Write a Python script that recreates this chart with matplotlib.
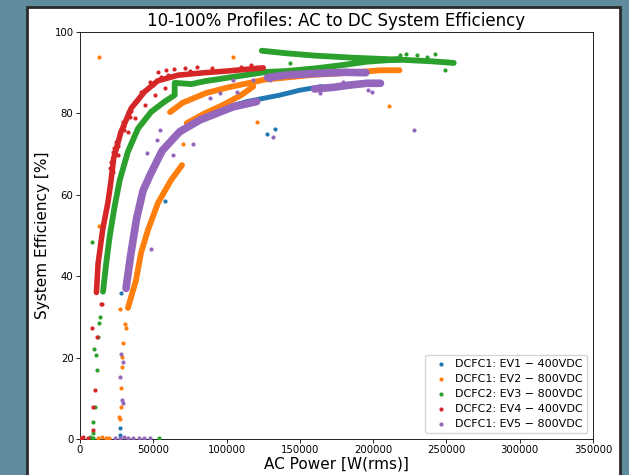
import numpy as np
import matplotlib
matplotlib.use("Agg")
import matplotlib.pyplot as plt
from matplotlib.patches import Rectangle

nan = np.nan

# legend labels, same order as the colours below
labels = ["DCFC1: EV1 \u2212 400VDC", "DCFC1: EV2 \u2212 800VDC", "DCFC2: EV3 \u2212 800VDC",
          "DCFC2: EV4 \u2212 400VDC", "DCFC1: EV5 \u2212 800VDC"]
colors = ["tab:blue", "tab:orange", "tab:green", "tab:red", "tab:purple"]

# --- EV1 (blue): dense band (nan = break) + stray points
ev1_band_x = [78000, 97700, 113700, 136400, 150000, 165000]
ev1_band_y = [78.5, 81.2, 82.9, 84.5, 85.7, 86.6]
ev1_dot_x = [27300, 27300, 27700, 58000, 127300, 133000]
ev1_dot_y = [1.0, 2.8, 35.9, 58.5, 74.9, 76.1]

# --- EV2 (orange)
ev2_band_x = [32700, 38200, 41600, 46400, 53200, 62100, 69600, nan,
              61400, 70000, 86000, 100000, 126000, 160000, 185000, 205000, 218000, nan,
              72800, 85000, 97700, 110000, 118200]
ev2_band_y = [32.2, 39, 45.7, 51.4, 58, 63.6, 67.3, nan,
              80.3, 82.6, 85, 86.3, 88.3, 89.5, 90, 90.6, 90.6, nan,
              77.6, 80, 82.1, 84.5, 86.6]
ev2_dot_x = [13000, 13200, 27300, 30700, 31200, 29300, 28500, 28500, 27700, 27700, 26600,
             27100, 20000, 17500, 12500, 15000, 104400, 120500, 211000, 70500]
ev2_dot_y = [93.9, 52.3, 32, 28.3, 27.3, 23.6, 20.2, 17.7, 12.5, 7.9, 5.4,
             4.8, 0.3, 0.3, 0.3, 0.5, 93.9, 78, 81.8, 72.6]

# --- EV3 (green)
ev3_band_x = [15700, 17900, 20200, 23600, 27100, 32700, 39600, 48600, 57800, 64600,
              64600, 75900, 85000, 105000, 127300, 141000, 161400, 179600, 195600, 218300, nan,
              124000, 140000, 160000, 185000, 218000, 240000, 255000]
ev3_band_y = [36.2, 43.2, 49.7, 57.1, 63.6, 70.6, 76.3, 80.4, 82.9, 84.5,
              87.5, 87.2, 87.9, 89, 90.2, 90.4, 91.1, 91.9, 92.7, 93.3, nan,
              95.4, 94.8, 94.2, 93.7, 93.2, 92.8, 92.4]
ev3_dot_x = [218000, 222400, 229900, 236700, 242100, 249000, 143200, 8200, 13600, 13200,
             12500, 9500, 10900, 11400, 10200, 8700, 8900, 54000, 9000, 7000]
ev3_dot_y = [94.3, 94.6, 94.4, 93.9, 94.6, 90.7, 92.3, 48.3, 30, 28.5,
             25, 22, 20.6, 17, 7.9, 4.2, 1.4, 0.2, 0.3, 0.4]

# --- EV4 (red)
ev4_band_x = [11200, 12300, 15500, 19000, 21000, 23000, 28000, 35000, 44000, 53000,
              67000, 85000, 100000, 125000]
ev4_band_y = [36, 43, 51.5, 58, 63, 69, 75.5, 81.3, 85.3, 88,
              89.4, 90, 90.4, 91.2]
ev4_dot_x = [21400, 22500, 24800, 27000, 29300, 32700, 37300, 41800, 47500, 53200,
             58900, 71400, 32700, 37300, 44100, 51000, 57800, 25900, 22500, 14100,
             8000, 11400, 10200, 9100, 8700, 700, 5700, 14800, 2000,
             26000, 30000, 34000, 39000, 46000, 50000, 60000, 75000, 90000, 110000,
             20500, 23500, 26800, 29800, 34500, 40500, 55000, 64000, 80000, 117000]
ev4_dot_y = [68.1, 70.6, 73, 75.5, 78, 80.4, 82.9, 85.3, 87.8, 90.2,
             90.7, 91.1, 75.5, 78.8, 82.1, 84.5, 86.2, 69.8, 65.7, 33.2,
             27.3, 25.1, 12, 7.9, 2.2, 0.2, 0.2, 33.2, 0.5,
             72, 76, 79, 83, 86, 87, 89.5, 90.5, 91.2, 91.5,
             66.5, 71.5, 74, 77, 80.5, 84, 89, 90.8, 91.5, 92]

# --- EV5 (purple)
ev5_band_x = [31400, 34500, 38500, 43000, 48000, 56000, 68000, 81900, 104400, 120500, nan,
              160000, 172600, 185000, 195600, 205000, nan,
              128000, 140000, 160000, 180000, 195000]
ev5_band_y = [37, 45, 54, 61, 65, 70.8, 75.5, 78.4, 81.6, 82.9, nan,
              86.0, 86.4, 87, 87.4, 87.4, nan,
              88.8, 89.4, 89.8, 90.1, 90.0]
ev5_dot_x = [131900, 227800, 179600, 163700, 196700, 199000, 88700, 95500, 106900, 118200,
             129600, 104600, 54600, 52300, 77300, 63600, 45500, 48200, 27300, 28400,
             29500, 24000, 27000, 30000, 33000, 36000, 40000, 44000, 48000, 28000, 29000]
ev5_dot_y = [74.3, 75.9, 87.8, 84.9, 85.7, 85.3, 83.7, 84.9, 85.3, 88.2,
             88.2, 88.2, 75.9, 73.5, 72.6, 69.8, 70.2, 46.7, 15.3, 9.6,
             8.9, 0.3, 0.3, 0.4, 0.3, 0.3, 0.3, 0.3, 0.3, 21, 19]

bands = [(ev1_band_x, ev1_band_y), (ev2_band_x, ev2_band_y), (ev3_band_x, ev3_band_y),
         (ev4_band_x, ev4_band_y), (ev5_band_x, ev5_band_y)]
dots = [(ev1_dot_x, ev1_dot_y), (ev2_dot_x, ev2_dot_y), (ev3_dot_x, ev3_dot_y),
        (ev4_dot_x, ev4_dot_y), (ev5_dot_x, ev5_dot_y)]
band_lw = [3.5, 4.2, 4.2, 4.0, 5.5]

fig = plt.figure(figsize=(6.29, 4.75), dpi=100)
fig.patch.set_facecolor("#5e8c9c")
# white figure area inside the screenshot frame
fig.add_artist(Rectangle((27 / 629, -0.01), 593 / 629, 468 / 475 + 0.01, transform=fig.transFigure,
                         facecolor="white", edgecolor="#2b2b2b", lw=2, zorder=-5))

ax = fig.add_axes([80 / 629, 36 / 475, 513 / 629, 407 / 475])
for i in range(5):
    bx, by = bands[i]
    ax.plot(bx, by, color=colors[i], lw=band_lw[i], solid_capstyle="round",
            solid_joinstyle="round", zorder=2 + i)
    dx, dy = dots[i]
    ax.scatter(dx, dy, s=9, color=colors[i], label=labels[i], zorder=2 + i, linewidths=0)

ax.set_xlim(0, 350000)
ax.set_ylim(0, 100)
ax.set_xticks(np.arange(0, 350001, 50000))
ax.set_yticks(np.arange(0, 101, 20))
ax.tick_params(labelsize=7.3, width=0.6, length=2.6, pad=2)
for sp in ax.spines.values():
    sp.set_linewidth(0.6)

ax.set_title("10-100% Profiles: AC to DC System Efficiency", fontsize=12, pad=4)
ax.set_xlabel("AC Power [W(rms)]", fontsize=11, labelpad=1)
ax.set_ylabel("System Efficiency [%]", fontsize=11, labelpad=3)
ax.legend(loc="lower right", fontsize=8, markerscale=1.0, handletextpad=0.3,
          borderpad=0.4, labelspacing=0.45)

fig.savefig("out.png", dpi=100, facecolor=fig.get_facecolor())
